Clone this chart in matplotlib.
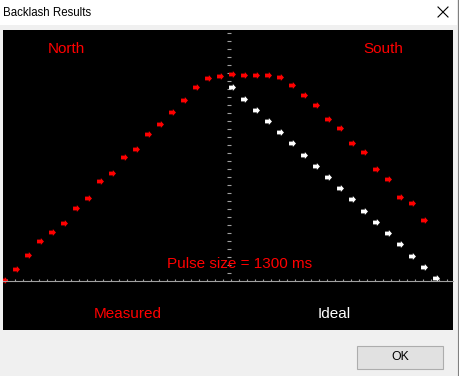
import numpy as np
import matplotlib
matplotlib.use("Agg")
import matplotlib.pyplot as plt
import matplotlib.patches as mpatches
from matplotlib.path import Path
from matplotlib.ticker import MultipleLocator, FixedLocator

# measured backlash curve (red), one point per step
measured_x = np.arange(0, 36)
measured_y = [1, 12, 26, 40, 49, 58, 73, 83, 100, 108, 124, 132, 147, 157, 169, 181,
              194, 203, 205, 207, 206, 206, 206, 204, 196, 186, 176, 162, 153, 138,
              129, 112, 102, 84, 78, 61]

# ideal return curve (white)
ideal_x = np.arange(19, 37)
ideal_y = [194, 182, 171, 160, 149, 138, 126, 115, 104, 93, 82, 70, 59, 48, 37, 25, 14, 3]

labels_top = ["North", "South"]
labels_bottom = ["Measured", "Ideal"]
pulse_text = "Pulse size = 1300 ms"

W, H = 460, 376
fig = plt.figure(figsize=(W / 100, H / 100), dpi=100, facecolor="#f0f0f0")

# dialog chrome, in pixel coords
bg = fig.add_axes([0, 0, 1, 1])
bg.set_xlim(0, W)
bg.set_ylim(H, 0)
bg.axis("off")
bg.add_patch(mpatches.Rectangle((0, 0), 457, 25, facecolor="white", edgecolor="none"))
bg.text(3, 12.5, "Backlash Results", fontsize=8.3, family="Liberation Sans",
        va="center", ha="left", color="black")
bg.plot([438, 448], [7, 17], color="black", lw=0.8)
bg.plot([438, 448], [17, 7], color="black", lw=0.8)
bg.plot([458, 458], [0, H], color="#808080", lw=0.8)
bg.add_patch(mpatches.Rectangle((357, 346), 86, 23, facecolor="#e1e1e1",
                                edgecolor="#adadad", lw=0.8))
bg.text(400, 357.5, "OK", fontsize=8.8, family="Liberation Sans",
        ha="center", va="center", color="black")

# black plot panel: px 3..453 wide, 30..330 tall
ax = fig.add_axes([3 / W, (H - 330) / H, 450 / W, 300 / H])
ax.set_facecolor("black")
ax.set_xlim(-1 / 12, 449 / 12)
ax.set_ylim(-49, 251)

for s in ["top", "right"]:
    ax.spines[s].set_visible(False)
ax.spines["bottom"].set_position(("data", 0))
ax.spines["bottom"].set_color("#a0a0a0")
ax.spines["bottom"].set_linewidth(0.8)
ax.spines["left"].set_position(("data", 224.5 / 12))
ax.spines["left"].set_color("none")

ax.xaxis.set_major_locator(MultipleLocator(8 / 12, offset=3 / 12))
ax.yaxis.set_major_locator(FixedLocator(np.arange(8, 249, 8)))
ax.tick_params(axis="x", direction="in", length=1.6, width=0.8, color="#a0a0a0",
               labelbottom=False)
ax.tick_params(axis="y", direction="inout", length=2.4, width=0.8, color="#a0a0a0",
               labelleft=False)

# little arrow-shaped marker like the original
arrow = Path([(-1, -0.55), (0.1, -0.55), (0.1, -1), (1, 0), (0.1, 1), (0.1, 0.55),
              (-1, 0.55), (-1, -0.55)],
             [Path.MOVETO] + [Path.LINETO] * 6 + [Path.CLOSEPOLY])

ax.plot(measured_x, measured_y, ls="none", marker=arrow, ms=5, mew=0,
        color="#ff0000")
ax.plot(ideal_x, ideal_y, ls="none", marker=arrow, ms=5, mew=0, color="white")

font = dict(family="Liberation Sans", fontsize=11)
ax.text(63 / 450, 1 - 19 / 300, labels_top[0], transform=ax.transAxes,
        ha="center", va="center", color="#ff0000", **font)
ax.text(380 / 450, 1 - 19 / 300, labels_top[1], transform=ax.transAxes,
        ha="center", va="center", color="#ff0000", **font)
ax.text(237 / 450, 1 - 234 / 300, pulse_text, transform=ax.transAxes,
        ha="center", va="center", color="#ff0000", **font)
ax.text(125 / 450, 1 - 284 / 300, labels_bottom[0], transform=ax.transAxes,
        ha="center", va="center", color="#ff0000", **font)
ax.text(331 / 450, 1 - 284 / 300, labels_bottom[1], transform=ax.transAxes,
        ha="center", va="center", color="white", **font)

fig.savefig("out.png", dpi=100, facecolor=fig.get_facecolor())
